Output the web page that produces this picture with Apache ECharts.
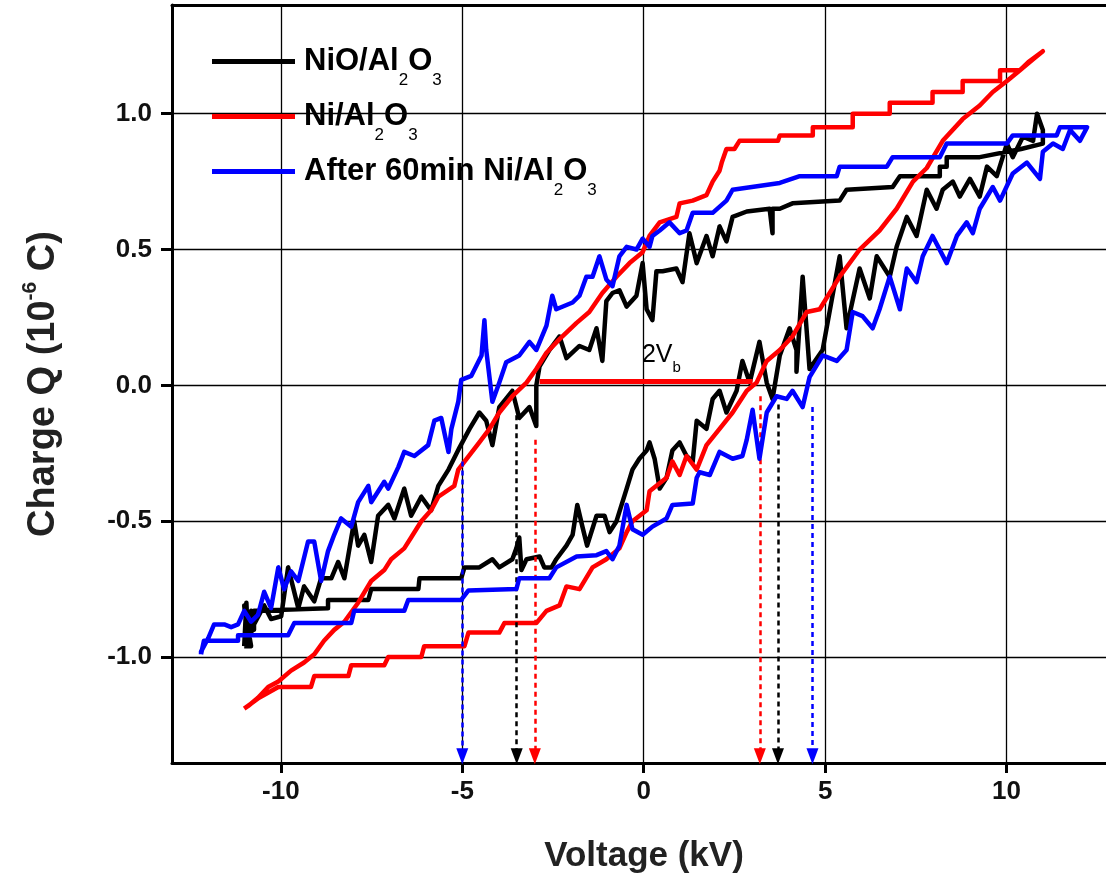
<!DOCTYPE html>
<html><head><meta charset="utf-8">
<script src="https://cdn.jsdelivr.net/npm/echarts@6/dist/echarts.min.js"></script>
<style>html,body{margin:0;padding:0;background:#fff}#c{width:1106px;height:879px}</style>
</head><body><div id="c"></div>
<script>
// ---------- data ----------
const seriesNames = ['NiO/Al2O3', 'Ni/Al2O3', 'After 60min Ni/Al2O3'];
const xTickValues = [-10, -5, 0, 5, 10];
const yTickValues = [-1, -0.5, 0, 0.5, 1];

// NiO/Al2O3 (black): [voltage kV, charge 1e-6 C]
const niOLower = [[-11.01,-0.96],[-10.95,-0.80],[-10.90,-0.95],[-10.82,-0.83],[-10.74,-0.90],[-10.74,-0.83],[-8.70,-0.82],[-8.70,-0.79],[-7.59,-0.79],[-7.51,-0.75],[-6.21,-0.75],[-6.18,-0.71],[-5.03,-0.71],[-4.94,-0.67],[-4.53,-0.67],[-4.17,-0.64],[-3.98,-0.67],[-3.62,-0.64],[-3.51,-0.60],[-3.43,-0.56],[-3.37,-0.68],[-3.23,-0.64],[-2.87,-0.63],[-2.74,-0.67],[-2.54,-0.67],[-2.41,-0.64],[-2.13,-0.59],[-1.96,-0.55],[-1.83,-0.44],[-1.69,-0.52],[-1.56,-0.59],[-1.30,-0.48],[-1.08,-0.48],[-0.94,-0.54],[-0.75,-0.50],[-0.47,-0.38],[-0.31,-0.31],[-0.12,-0.27],[0.08,-0.24],[0.16,-0.21],[0.30,-0.27],[0.44,-0.38],[0.63,-0.34],[0.79,-0.24],[0.99,-0.21],[1.18,-0.26],[1.35,-0.28],[1.46,-0.13],[1.73,-0.16],[1.90,-0.05],[2.09,-0.02],[2.28,-0.10],[2.56,-0.02],[2.72,0.09],[2.92,0.01],[3.19,0.16],[3.39,0.01],[3.55,-0.05],[3.75,0.11],[4.02,0.21],[4.21,0.13],[4.21,0.05],[4.38,0.40],[4.57,0.06],[4.93,0.13],[5.40,0.475],[5.59,0.21],[5.95,0.43],[6.23,0.32],[6.42,0.475],[6.78,0.40],[6.97,0.51],[7.25,0.62],[7.52,0.55],[7.80,0.72],[8.07,0.65],[8.24,0.72],[8.52,0.75],[8.71,0.695],[8.99,0.76],[9.26,0.695],[9.46,0.805],[9.73,0.77],[10.01,0.89],[10.17,0.84],[10.45,0.915],[10.73,0.90],[10.84,1.00],[11.00,0.94]];
const niOUpper = [[11.00,0.89],[10.40,0.87],[9.26,0.84],[8.35,0.84],[8.35,0.805],[8.16,0.805],[8.16,0.77],[7.06,0.77],[6.86,0.73],[5.59,0.72],[5.40,0.68],[4.10,0.67],[3.75,0.65],[3.55,0.65],[3.55,0.56],[3.47,0.65],[2.84,0.64],[2.45,0.62],[2.28,0.53],[2.09,0.585],[1.90,0.475],[1.73,0.55],[1.46,0.45],[1.26,0.56],[1.07,0.38],[0.90,0.43],[0.52,0.42],[0.35,0.42],[0.24,0.24],[0.08,0.28],[-0.03,0.45],[-0.20,0.33],[-0.47,0.29],[-0.67,0.35],[-0.86,0.34],[-1.03,0.31],[-1.14,0.09],[-1.30,0.21],[-1.50,0.13],[-1.77,0.145],[-2.13,0.10],[-2.32,0.18],[-2.60,0.13],[-2.87,0.07],[-2.96,0.00],[-2.96,-0.15],[-3.15,-0.08],[-3.43,-0.12],[-3.62,-0.02],[-3.98,-0.08],[-4.17,-0.22],[-4.34,-0.13],[-4.53,-0.10],[-4.80,-0.16],[-5.08,-0.23],[-5.38,-0.31],[-5.66,-0.37],[-5.86,-0.46],[-6.13,-0.41],[-6.41,-0.48],[-6.60,-0.38],[-6.87,-0.49],[-7.04,-0.44],[-7.32,-0.48],[-7.51,-0.65],[-7.70,-0.55],[-7.87,-0.59],[-7.98,-0.50],[-8.25,-0.71],[-8.42,-0.65],[-8.61,-0.71],[-8.89,-0.71],[-9.08,-0.795],[-9.36,-0.74],[-9.52,-0.82],[-9.80,-0.67],[-9.99,-0.85],[-10.27,-0.86],[-10.46,-0.81],[-10.74,-0.88],[-10.90,-0.94],[-11.01,-0.81],[-10.82,-0.96],[-11.01,-0.96]];

// Ni/Al2O3 (red)
const niLower = [[-11.01,-1.19],[-10.60,-1.15],[-10.07,-1.11],[-9.17,-1.11],[-9.08,-1.07],[-8.14,-1.07],[-8.06,-1.03],[-7.15,-1.03],[-7.04,-1.00],[-6.13,-1.00],[-6.05,-0.96],[-4.94,-0.96],[-4.83,-0.91],[-3.98,-0.91],[-3.84,-0.875],[-2.96,-0.875],[-2.68,-0.83],[-2.32,-0.81],[-2.13,-0.74],[-1.77,-0.75],[-1.41,-0.67],[-1.03,-0.64],[-0.67,-0.60],[-0.47,-0.54],[-0.31,-0.50],[0.08,-0.46],[0.16,-0.39],[0.63,-0.34],[0.79,-0.28],[0.99,-0.33],[1.18,-0.26],[1.46,-0.31],[1.73,-0.22],[2.09,-0.16],[2.45,-0.10],[2.84,-0.02],[3.11,0.01],[3.39,0.09],[3.75,0.13],[4.10,0.18],[4.49,0.27],[4.85,0.28],[5.40,0.40],[5.95,0.50],[6.50,0.57],[6.97,0.65],[7.42,0.75],[7.80,0.80],[8.24,0.90],[8.79,0.98],[9.26,1.03],[9.62,1.08],[10.01,1.12],[10.37,1.16],[10.73,1.20],[11.00,1.23]];
const niUpper = [[10.60,1.19],[10.37,1.16],[9.82,1.16],[9.82,1.12],[8.79,1.12],[8.79,1.08],[7.96,1.08],[7.96,1.04],[6.78,1.04],[6.78,1.00],[5.76,1.00],[5.76,0.95],[4.66,0.95],[4.66,0.92],[3.75,0.92],[3.70,0.90],[2.64,0.90],[2.50,0.87],[2.28,0.87],[2.15,0.82],[2.09,0.79],[1.90,0.75],[1.73,0.70],[1.35,0.68],[0.99,0.67],[0.90,0.62],[0.44,0.60],[0.16,0.55],[-0.03,0.49],[-0.39,0.45],[-0.75,0.40],[-1.14,0.34],[-1.50,0.27],[-1.85,0.23],[-2.32,0.17],[-2.68,0.12],[-2.96,0.06],[-3.23,0.01],[-3.62,-0.04],[-3.98,-0.10],[-4.25,-0.16],[-4.53,-0.21],[-5.11,-0.31],[-5.22,-0.37],[-5.66,-0.41],[-5.86,-0.46],[-6.13,-0.50],[-6.41,-0.56],[-6.60,-0.60],[-6.96,-0.64],[-7.15,-0.68],[-7.51,-0.72],[-7.87,-0.80],[-8.25,-0.87],[-8.53,-0.90],[-8.81,-0.94],[-9.08,-0.99],[-9.36,-1.02],[-9.72,-1.05],[-10.07,-1.09],[-10.35,-1.11],[-10.63,-1.15],[-10.90,-1.18],[-11.01,-1.19]];

// After 60min Ni/Al2O3 (blue)
const afterLower = [[-12.20,-0.99],[-12.12,-0.94],[-11.18,-0.94],[-11.18,-0.92],[-9.80,-0.92],[-9.63,-0.875],[-8.06,-0.875],[-7.98,-0.83],[-6.60,-0.83],[-6.49,-0.79],[-5.03,-0.79],[-4.83,-0.755],[-3.51,-0.75],[-3.43,-0.71],[-2.60,-0.71],[-2.41,-0.67],[-1.85,-0.63],[-1.30,-0.625],[-1.03,-0.61],[-0.86,-0.64],[-0.67,-0.59],[-0.47,-0.44],[-0.31,-0.53],[-0.03,-0.55],[0.24,-0.52],[0.63,-0.49],[0.79,-0.44],[1.35,-0.435],[1.46,-0.34],[1.54,-0.32],[1.82,-0.33],[2.09,-0.245],[2.45,-0.27],[2.72,-0.26],[2.84,-0.20],[3.00,-0.09],[3.19,-0.27],[3.39,-0.10],[3.66,-0.04],[3.94,-0.05],[4.10,-0.02],[4.38,-0.08],[4.57,0.03],[4.93,0.11],[5.32,0.09],[5.59,0.13],[5.76,0.27],[6.03,0.255],[6.31,0.21],[6.50,0.28],[6.78,0.40],[7.06,0.28],[7.25,0.43],[7.52,0.38],[7.69,0.475],[7.96,0.55],[8.35,0.45],[8.63,0.55],[8.90,0.60],[9.07,0.56],[9.26,0.65],[9.62,0.73],[9.82,0.68],[10.17,0.78],[10.56,0.82],[10.92,0.76],[11.00,0.86],[11.28,0.89],[11.55,0.87],[11.75,0.94],[12.02,0.90],[12.22,0.95]];
const afterUpper = [[11.47,0.95],[11.38,0.92],[10.17,0.92],[10.01,0.89],[8.35,0.89],[8.16,0.84],[6.86,0.84],[6.70,0.805],[5.40,0.805],[5.32,0.77],[4.30,0.77],[3.75,0.745],[2.45,0.72],[2.28,0.68],[1.90,0.635],[1.35,0.635],[1.18,0.57],[0.99,0.56],[0.71,0.60],[0.44,0.57],[0.24,0.55],[0.16,0.51],[-0.03,0.54],[-0.20,0.50],[-0.47,0.51],[-0.67,0.475],[-0.86,0.365],[-1.03,0.39],[-1.22,0.475],[-1.41,0.40],[-1.58,0.40],[-1.77,0.33],[-1.96,0.305],[-2.41,0.28],[-2.52,0.33],[-2.68,0.22],[-2.96,0.13],[-3.15,0.16],[-3.43,0.11],[-3.79,0.085],[-3.98,0.01],[-4.17,-0.06],[-4.34,0.13],[-4.39,0.24],[-4.47,0.11],[-4.75,0.035],[-5.03,0.02],[-5.11,-0.06],[-5.30,-0.16],[-5.38,-0.245],[-5.58,-0.12],[-5.77,-0.13],[-5.94,-0.22],[-6.32,-0.26],[-6.60,-0.245],[-6.76,-0.30],[-7.04,-0.38],[-7.15,-0.355],[-7.51,-0.43],[-7.59,-0.37],[-7.87,-0.43],[-8.06,-0.52],[-8.34,-0.49],[-8.53,-0.55],[-8.70,-0.61],[-8.89,-0.72],[-9.08,-0.575],[-9.25,-0.575],[-9.52,-0.72],[-9.72,-0.685],[-9.91,-0.75],[-10.07,-0.67],[-10.27,-0.82],[-10.46,-0.76],[-10.63,-0.845],[-10.82,-0.87],[-11.01,-0.83],[-11.18,-0.88],[-11.37,-0.89],[-11.56,-0.88],[-11.84,-0.88],[-12.00,-0.93],[-12.20,-0.98],[-12.20,-0.99]];

// breakdown-voltage arrows (dashed, down to the axis)
const arrowVoltages = [-5.0, -3.5, -3.0, 3.2, 3.7, 4.65];
const arrowStartQ   = [-0.28, -0.11, -0.20, -0.04, -0.07, -0.08];
const arrowSeries   = [2, 0, 1, 1, 0, 2];
const arrowEndQ = -1.365;
// 2Vb marker line and its label
const vbLine = [[-2.87, 0.015], [3.0, 0.015]];
const vbLabelAt = [-0.05, 0.11];

// axis ranges
const xRange = [-13, 12.74];
const yRange = [-1.39, 1.40];

// ---------- styles ----------
const colors = ['#000000', '#ff0000', '#0000ff'];
const FONT = 'Liberation Sans, Arial, sans-serif';

function chem(name, m, s) {
  const i = name.indexOf('Al2O3');
  return '{' + m + '|' + name.slice(0, i) + 'Al}{' + s + '|2}{' + m + '|O}{' + s + '|3}';
}

const loops = [niOLower.concat(niOUpper), niLower.concat(niUpper), afterLower.concat(afterUpper)];
const drawOrder = [2, 0, 1];

const series = drawOrder.map(i => ({
  name: seriesNames[i], type: 'line', data: loops[i], showSymbol: false, symbol: 'none',
  color: colors[i], lineStyle: { width: 4.5, color: colors[i], join: 'round' }, z: 3 + i,
  animation: false
}));

series.push({
  name: 'annot', type: 'line', data: [], animation: false, z: 10,
  markLine: {
    silent: true, animation: false, symbol: ['none', 'triangle'], symbolSize: [12, 16],
    label: { show: false },
    data: arrowVoltages.map((v, k) => [
      { coord: [v, arrowStartQ[k]], lineStyle: { color: colors[arrowSeries[k]], type: [5, 4], width: 2.5 }, itemStyle: { color: colors[arrowSeries[k]] } },
      { coord: [v, arrowEndQ] }
    ]).concat([[
      { coord: vbLine[0], symbol: 'none', lineStyle: { color: '#ff0000', type: 'solid', width: 5 } },
      { coord: vbLine[1], symbol: 'none' }
    ]])
  },
  markPoint: {
    silent: true, animation: false, symbol: 'circle', symbolSize: 0,
    data: [{ coord: vbLabelAt }],
    label: {
      show: true, position: 'right', distance: 0, formatter: '{v|2V}{b|b}',
      rich: {
        v: { fontFamily: FONT, fontSize: 25, color: '#000', lineHeight: 30 },
        b: { fontFamily: FONT, fontSize: 15, color: '#000', lineHeight: 30, padding: [24, 0, 0, 0] }
      }
    }
  }
});

const chart = echarts.init(document.getElementById('c'), null, { renderer: 'canvas' });
chart.setOption({
  backgroundColor: '#ffffff',
  animation: false,
  grid: { left: 172, top: 5, right: 0, height: 760, show: false },
  legend: {
    data: seriesNames, orient: 'vertical', left: 212, top: 34, padding: 0,
    itemWidth: 83, itemHeight: 5, itemGap: 0, icon: 'rect', selectedMode: false,
    formatter: name => chem(name, 'm', 's'),
    textStyle: {
      padding: [0, 0, 0, 4],
      rich: {
        m: { fontFamily: FONT, fontSize: 31, fontWeight: 'bold', color: '#000', lineHeight: 36 },
        s: { fontFamily: FONT, fontSize: 17, color: '#000', lineHeight: 36, padding: [38, 0, 0, 0] }
      }
    }
  },
  xAxis: [{
    type: 'value', min: xRange[0], max: xRange[1],
    name: 'Voltage (kV)', nameLocation: 'middle', nameGap: 76,
    nameTextStyle: { fontFamily: FONT, fontSize: 35, fontWeight: 'bold', color: '#222', padding: [0, 0, 0, 10] },
    axisLine: { show: true, onZero: false, lineStyle: { color: '#000', width: 3 } },
    axisTick: { show: true, inside: false, length: 10, customValues: xTickValues, lineStyle: { color: '#000', width: 3 } },
    axisLabel: { customValues: xTickValues, margin: 16, fontFamily: FONT, fontSize: 26, fontWeight: 'bold', color: '#111' },
    splitLine: { show: true, lineStyle: { color: '#000', width: 1.3 } },
    minorTick: { show: false }
  }, {
    type: 'value', position: 'top', min: xRange[0], max: xRange[1],
    axisLine: { show: true, onZero: false, lineStyle: { color: '#000', width: 3 } },
    axisTick: { show: false }, axisLabel: { show: false }, splitLine: { show: false }
  }],
  yAxis: {
    type: 'value', min: yRange[0], max: yRange[1],
    name: '{a|Charge Q (10}{p|-6}{a| C)}', nameLocation: 'middle', nameGap: 106, nameRotate: 90,
    nameTextStyle: {
      rich: {
        a: { fontFamily: FONT, fontSize: 38, fontWeight: 'bold', color: '#222', lineHeight: 44 },
        p: { fontFamily: FONT, fontSize: 21, fontWeight: 'bold', color: '#222', lineHeight: 44, padding: [0, 0, 28, 0] }
      }
    },
    axisLine: { show: true, onZero: false, lineStyle: { color: '#000', width: 3 } },
    axisTick: { show: true, inside: false, length: 11, customValues: yTickValues, lineStyle: { color: '#000', width: 3 } },
    axisLabel: { customValues: yTickValues, margin: 20, fontFamily: FONT, fontSize: 26, fontWeight: 'bold', color: '#111',
      formatter: v => v.toFixed(1) },
    splitLine: { show: true, lineStyle: { color: '#000', width: 1.3 } }
  },
  series: series
});
</script></body></html>
